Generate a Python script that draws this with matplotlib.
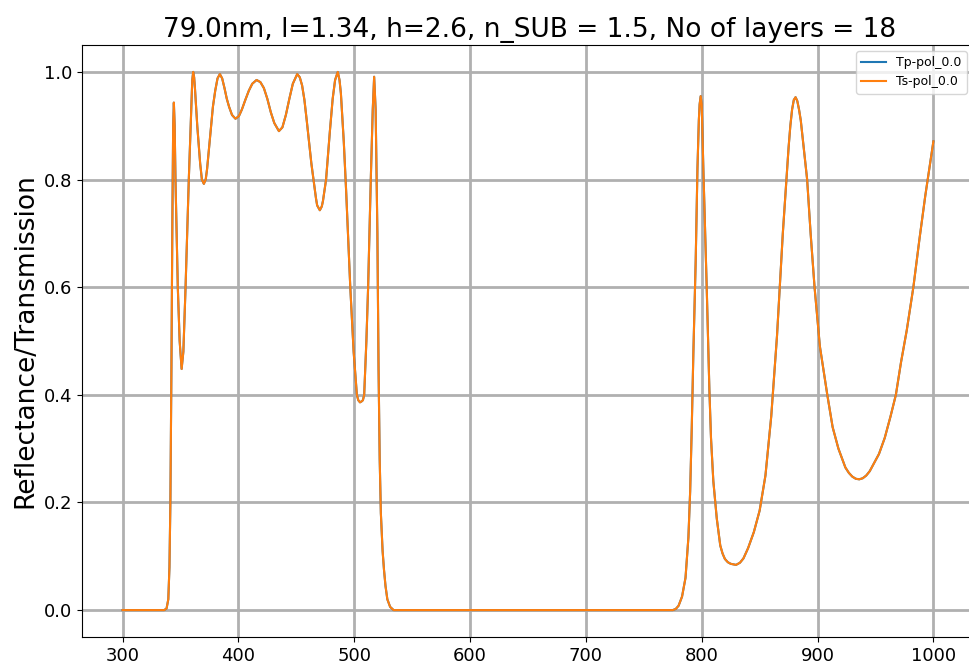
import matplotlib
matplotlib.use('Agg')
import matplotlib.pyplot as plt

# wavelength (nm) and transmission
wavelength = [300, 320, 336, 338, 339.5, 340.5, 341.3, 342.2, 343.0, 343.7, 344.3,
              345.0, 345.7, 347.7, 349.3, 351.0, 352.5, 354.4, 357.2, 359.3, 360.2,
              361.0, 361.8, 362.5, 364.5, 367.0, 368.5, 370.2, 371.8, 373.0, 376.0,
              378.0, 380.0, 382.0, 384.0, 386.0, 388.0, 390.0, 392.0, 394.5, 397.5,
              400.5, 403.0, 406.0, 409.0, 412.0, 415.7, 419.0, 422.0, 425.0, 428.0,
              431.0, 435.0, 438.0, 441.0, 444.0, 447.0, 450.8, 453.0, 455.0, 457.0,
              459.0, 463.0, 467.0, 468.0, 470.3, 472.0, 473.0, 475.7, 479.0, 481.4,
              483.5, 485.8, 487.3, 488.5, 491.0, 493.0, 496.6, 499.5, 502.3, 503.5,
              505.0, 506.5, 507.5, 508.6, 510.5, 512.0, 514.3, 516.0, 517.2, 518.5,
              520.0, 521.0, 522.0, 523.0, 524.5, 525.7, 527.0, 528.6, 531.0, 534.0,
              600, 700, 775, 777.5, 780, 783, 786, 788.5, 790.0, 791.4, 792.8,
              794.8, 796.3, 797.5, 798.2, 799.1, 800.0, 801.4, 803.0, 804.3, 806.6,
              808.0, 810.0, 813.0, 816.0, 818.0, 820.0, 822.5, 825.0, 829.6, 833,
              836, 840, 845, 850, 855, 860, 865, 870, 875, 876.5, 878, 879.5, 881,
              882.5, 884, 885.5, 887, 891, 894, 897.4, 902, 908.4, 913, 918, 924,
              927, 930, 933, 936, 939, 942, 945, 948, 953, 958, 963, 967.6, 972,
              977, 982.7, 988, 993, 996.5, 1000]
transmission = [0.0, 0.0, 0.0, 0.003, 0.02, 0.08, 0.2, 0.45, 0.72, 0.9, 0.943,
                0.9, 0.8, 0.6, 0.5, 0.448, 0.48, 0.6, 0.8, 0.93, 0.985,
                1.0, 0.99, 0.97, 0.9, 0.83, 0.80, 0.792, 0.80, 0.82, 0.89,
                0.935, 0.965, 0.988, 0.996, 0.988, 0.97, 0.95, 0.935, 0.92, 0.913,
                0.918, 0.93, 0.948, 0.965, 0.978, 0.985, 0.981, 0.97, 0.95, 0.925,
                0.905, 0.89, 0.897, 0.92, 0.95, 0.978, 0.996, 0.99, 0.975, 0.948,
                0.91, 0.83, 0.765, 0.752, 0.743, 0.75, 0.76, 0.8, 0.89, 0.95,
                0.985, 1.0, 0.985, 0.96, 0.87, 0.78, 0.6, 0.48, 0.4, 0.39,
                0.386, 0.388, 0.39, 0.4, 0.5, 0.6, 0.8, 0.93, 0.991, 0.93,
                0.7, 0.45, 0.28, 0.18, 0.11, 0.075, 0.045, 0.02, 0.006, 0.0,
                0.0, 0.0, 0.0, 0.002, 0.008, 0.025, 0.06, 0.135, 0.22, 0.34, 0.48,
                0.65, 0.82, 0.91, 0.94, 0.955, 0.94, 0.82, 0.7, 0.6, 0.41,
                0.32, 0.24, 0.17, 0.12, 0.105, 0.095, 0.089, 0.086, 0.084, 0.088,
                0.096, 0.115, 0.145, 0.185, 0.25, 0.36, 0.51, 0.7, 0.86, 0.9, 0.93, 0.948, 0.953,
                0.946, 0.93, 0.91, 0.88, 0.8, 0.7, 0.6, 0.49, 0.4, 0.34, 0.3, 0.265,
                0.255, 0.248, 0.244, 0.243, 0.245, 0.25, 0.258, 0.27, 0.29, 0.32, 0.36, 0.4, 0.46,
                0.52, 0.6, 0.69, 0.77, 0.82, 0.871]

title = '79.0nm, l=1.34, h=2.6, n_SUB = 1.5, No of layers = 18'

fig = plt.figure(figsize=(9.7, 6.65), dpi=100)
ax = fig.add_axes([82/970, 28/665, 896/970, 592/665])

ax.plot(wavelength, transmission, color='#1f77b4', linewidth=1.5, label='Tp-pol_0.0')
ax.plot(wavelength, transmission, color='#ff7f0e', linewidth=1.5, label='Ts-pol_0.0')

ax.set_xlim(265, 1038.5)
ax.set_ylim(-0.05, 1.05)
ax.set_xticks([300, 400, 500, 600, 700, 800, 900, 1000])
ax.set_yticks([0.0, 0.2, 0.4, 0.6, 0.8, 1.0])
ax.tick_params(labelsize=13)
ax.grid(True, color='#b0b0b0', linewidth=2)

ax.set_title(title, fontsize=19)
ax.set_ylabel('Reflectance/Transmission', fontsize=19)
ax.legend(loc='upper right', fontsize=9, bbox_to_anchor=((973 - 82) / 896, 1.0), borderaxespad=0.5)

plt.savefig('out.png')
